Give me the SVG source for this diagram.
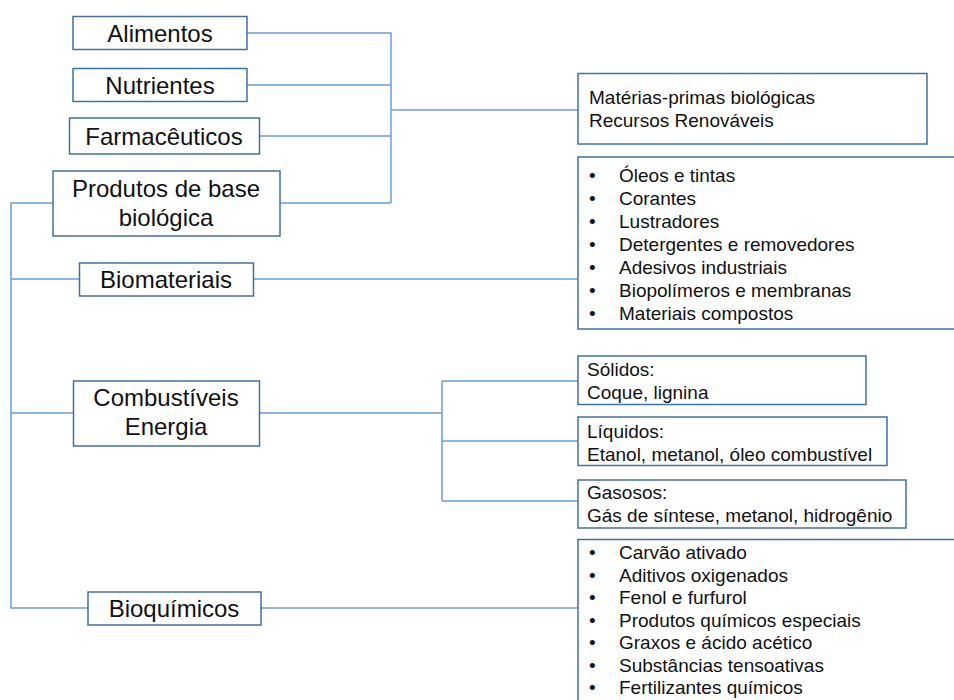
<svg xmlns="http://www.w3.org/2000/svg" width="954" height="700" viewBox="0 0 954 700">
<style>
.box{fill:#fff;stroke:#41719c;stroke-width:1.5}
.lbl{font-family:"Liberation Sans",Arial,sans-serif;font-size:24px;fill:#111;text-anchor:middle}
.txt{font-family:"Liberation Sans",Arial,sans-serif;font-size:19px;fill:#111}
.con{fill:none;stroke:#6a9fd6;stroke-width:1.5}
</style>
<rect width="954" height="700" fill="#fff"/>
<g id="connectors">
<path class="con" d="M247 33H391V203M247 85H391M260 136H391M280 203H391M391 110H578"/>
<path class="con" d="M53 203H11V608H88M11 279H79M11 413H73"/>
<path class="con" d="M254 279H578"/>
<path class="con" d="M260 413H442M442 381V501M442 381H578M442 441H578M442 501H578"/>
<path class="con" d="M261 608H578"/>
</g>
<g id="alimentos"><rect class="box" x="73" y="16.5" width="174" height="33"/><text class="lbl" x="160" y="42">Alimentos</text></g>
<g id="nutrientes"><rect class="box" x="73" y="68.5" width="174" height="33"/><text class="lbl" x="160" y="94">Nutrientes</text></g>
<g id="farmaceuticos"><rect class="box" x="69.5" y="118" width="190" height="36"/><text class="lbl" x="164" y="145">Farmacêuticos</text></g>
<g id="produtos"><rect class="box" x="53" y="171" width="227" height="65"/><text class="lbl" x="166" y="197">Produtos de base</text><text class="lbl" x="166" y="226">biológica</text></g>
<g id="biomateriais"><rect class="box" x="79.5" y="263" width="174" height="33"/><text class="lbl" x="166" y="288">Biomateriais</text></g>
<g id="combustiveis"><rect class="box" x="73.5" y="381" width="186" height="65"/><text class="lbl" x="166" y="406">Combustíveis</text><text class="lbl" x="166" y="435">Energia</text></g>
<g id="bioquimicos"><rect class="box" x="88" y="592" width="173" height="33"/><text class="lbl" x="174" y="617">Bioquímicos</text></g>
<g id="materias"><rect class="box" x="578" y="73.5" width="349" height="70.5"/><text class="txt" x="589" y="104">Matérias-primas biológicas</text><text class="txt" x="589" y="127">Recursos Renováveis</text></g>
<g id="lista-biomateriais"><rect class="box" x="578" y="157" width="390" height="172"/>
<text class="txt" x="589" y="182">•</text><text class="txt" x="619" y="182">Óleos e tintas</text>
<text class="txt" x="589" y="205">•</text><text class="txt" x="619" y="205">Corantes</text>
<text class="txt" x="589" y="228">•</text><text class="txt" x="619" y="228">Lustradores</text>
<text class="txt" x="589" y="251">•</text><text class="txt" x="619" y="251">Detergentes e removedores</text>
<text class="txt" x="589" y="274">•</text><text class="txt" x="619" y="274">Adesivos industriais</text>
<text class="txt" x="589" y="297">•</text><text class="txt" x="619" y="297">Biopolímeros e membranas</text>
<text class="txt" x="589" y="320">•</text><text class="txt" x="619" y="320">Materiais compostos</text>
</g>
<g id="solidos"><rect class="box" x="578" y="356" width="288" height="48.5"/><text class="txt" x="587" y="376">Sólidos:</text><text class="txt" x="587" y="399">Coque, lignina</text></g>
<g id="liquidos"><rect class="box" x="578" y="417" width="309" height="48.5"/><text class="txt" x="587" y="438">Líquidos:</text><text class="txt" x="587" y="461">Etanol, metanol, óleo combustível</text></g>
<g id="gasosos"><rect class="box" x="578" y="480" width="328" height="48"/><text class="txt" x="587" y="499">Gasosos:</text><text class="txt" x="587" y="522">Gás de síntese, metanol, hidrogênio</text></g>
<g id="lista-bioquimicos"><rect class="box" x="578" y="539.5" width="390" height="200"/>
<text class="txt" x="589" y="559">•</text><text class="txt" x="619" y="559">Carvão ativado</text>
<text class="txt" x="589" y="581.5">•</text><text class="txt" x="619" y="581.5">Aditivos oxigenados</text>
<text class="txt" x="589" y="604">•</text><text class="txt" x="619" y="604">Fenol e furfurol</text>
<text class="txt" x="589" y="626.5">•</text><text class="txt" x="619" y="626.5">Produtos químicos especiais</text>
<text class="txt" x="589" y="649">•</text><text class="txt" x="619" y="649">Graxos e ácido acético</text>
<text class="txt" x="589" y="671.5">•</text><text class="txt" x="619" y="671.5">Substâncias tensoativas</text>
<text class="txt" x="589" y="694">•</text><text class="txt" x="619" y="694">Fertilizantes químicos</text>
</g>
</svg>
